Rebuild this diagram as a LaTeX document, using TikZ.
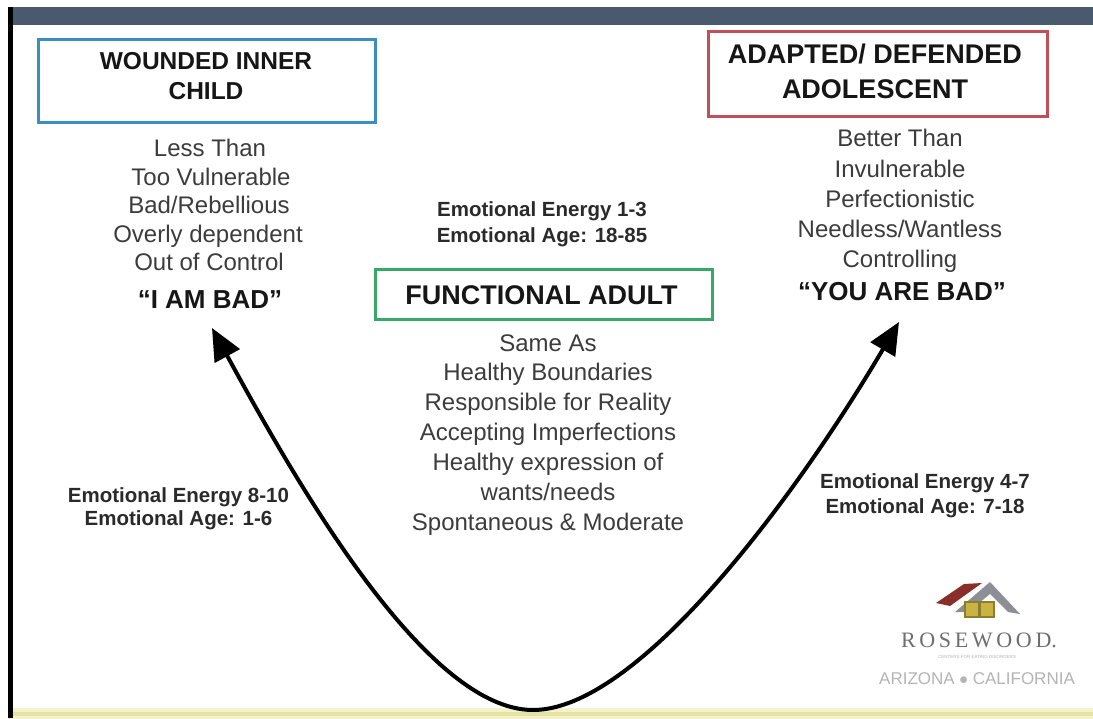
\documentclass[tikz,border=0pt]{standalone}
\usepackage{fontspec}
\setmainfont{Liberation Sans}
\newfontfamily\logoserif{Liberation Serif}
\usetikzlibrary{arrows.meta}
\definecolor{barslate}{HTML}{4A5A6E}
\definecolor{bodygray}{HTML}{3C3C3C}
\definecolor{labgray}{HTML}{2A2A2A}
\definecolor{titleblack}{HTML}{161616}
\definecolor{boxblue}{HTML}{3A8EC2}
\definecolor{boxred}{HTML}{C24E5A}
\definecolor{boxgreen}{HTML}{38A868}
\definecolor{paleyellow}{HTML}{F4F2CC}
\definecolor{lineyellow}{HTML}{E6E2A2}
\definecolor{roofred}{HTML}{8A2E2A}
\definecolor{roofgray}{HTML}{8C9096}
\definecolor{winyellow}{HTML}{C9B342}
\definecolor{logogray}{HTML}{6E6E6E}
\definecolor{logolight}{HTML}{B4B4B4}
\begin{document}
\begin{tikzpicture}[x=1pt,y=-1pt,
  body/.style={text=bodygray, font=\fontsize{24}{28}\selectfont, inner sep=0pt, text height=17.2pt, text depth=0pt},
  bodybold/.style={text=titleblack, font=\bfseries\fontsize{26}{30}\selectfont, inner sep=0pt, text height=18.6pt, text depth=0pt},
  elabel/.style={text=labgray, font=\bfseries\fontsize{20.5}{24}\selectfont, inner sep=0pt, text height=14.7pt, text depth=0pt},
  titleA/.style={text=titleblack, font=\bfseries\fontsize{24.5}{28}\selectfont, inner sep=0pt, text height=17.5pt, text depth=0pt},
  titleB/.style={text=titleblack, font=\bfseries\fontsize{27}{30}\selectfont, inner sep=0pt, text height=19.3pt, text depth=0pt},
  framebox/.style={draw, line width=3pt, fill=white, inner sep=0pt},
  curve/.style={line width=4pt, black, {Triangle[length=32pt,width=28pt]}-{Triangle[length=32pt,width=28pt]}}
]
\useasboundingbox (0,0) rectangle (1093,719);
\fill[white] (0,0) rectangle (1093,719);
% slide frame
\fill[paleyellow] (8,708) rectangle (1093,719);
\fill[lineyellow] (8,712) rectangle (1093,716);
\fill[barslate] (8,7) rectangle (1093,25);
\fill[black] (8,7) rectangle (13,718);

% boxes
\node[framebox, draw=boxblue, minimum width=337pt, minimum height=83pt] (wicbox) at (206.5,81.5) {};
\node[titleA] (wic1) at (206,61) {WOUNDED INNER};
\node[titleA] (wic2) at (206,91) {CHILD};

\node[framebox, draw=boxred, minimum width=339pt, minimum height=85pt] (adabox) at (877.5,74.5) {};
\node[titleB] (ada1) at (875,54) {ADAPTED/ DEFENDED};
\node[titleB] (ada2) at (875,89) {ADOLESCENT};

\node[framebox, draw=boxgreen, minimum width=337pt, minimum height=50pt] (fabox) at (543.5,295) {};
\node[titleB] (fa1) at (541.5,295) {FUNCTIONAL ADULT};

% left list
\node[body] (l1) at (210,148) {Less Than};
\node[body] (l2) at (211,176.5) {Too Vulnerable};
\node[body] (l3) at (209,205) {Bad/Rebellious};
\node[body] (l4) at (208,233.5) {Overly dependent};
\node[body] (l5) at (209,261.5) {Out of Control};
\node[bodybold] (l6) at (210,299) {``I AM BAD''};

% right list
\node[body] (r1) at (900,138) {Better Than};
\node[body] (r2) at (900,168.5) {Invulnerable};
\node[body] (r3) at (900,198.5) {Perfectionistic};
\node[body] (r4) at (900,228.5) {Needless/Wantless};
\node[body] (r5) at (900,258.5) {Controlling};
\node[bodybold] (r6) at (902,291) {``YOU ARE BAD''};

% middle list
\node[body] (m1) at (548,342.5) {Same As};
\node[body] (m2) at (548,371.5) {Healthy Boundaries};
\node[body] (m3) at (548,401.5) {Responsible for Reality};
\node[body] (m4) at (548,431.5) {Accepting Imperfections};
\node[body] (m5) at (548,461.5) {Healthy expression of};
\node[body] (m6) at (548,491.5) {wants/needs};
\node[body] (m7) at (548,521.5) {Spontaneous \& Moderate};

% emotional labels
\node[elabel] (e1) at (542,209.5) {Emotional Energy 1-3};
\node[elabel] (e2) at (542,235) {Emotional Age: 18-85};
\node[elabel] (e3) at (178.5,495) {Emotional Energy 8-10};
\node[elabel] (e4) at (178.5,518.5) {Emotional Age: 1-6};
\node[elabel] (e5) at (925,481) {Emotional Energy 4-7};
\node[elabel] (e6) at (925,506) {Emotional Age: 7-18};

% curve
\coordinate (lt) at (212,328);
\coordinate (bot) at (533,710);
\coordinate (rt) at (899,322);
\draw[curve] (lt) .. controls (295,480) and (425,710) .. (bot) .. controls (640,710) and (800,490) .. (rt);

% logo
\fill[roofgray] (955,612) -- (990,582) -- (1020,614) -- (1008,612) -- (990,594) -- (968,612) -- cycle;
\fill[roofred] (936,603) -- (964,584) -- (982,583) -- (950,606) -- cycle;
\fill[winyellow!70!black] (964,601) rectangle (995,618);
\fill[winyellow] (966,603) rectangle (978,616);
\fill[winyellow] (981,603) rectangle (993,616);
\node[text=logogray, font=\logoserif\fontsize{22}{24}\selectfont, inner sep=0pt] (rose) at (979,640) {R\,O\,S\,E\,W\,O\,O\,D.};
\node[text=logolight, font=\fontsize{4.5}{5}\selectfont, inner sep=0pt] (rosesub) at (977,657) {CENTERS FOR EATING DISORDERS};
\node[text=logolight, font=\fontsize{17}{19}\selectfont, inner sep=0pt] (rosestate) at (977,679) {ARIZONA $\bullet$ CALIFORNIA};
\end{tikzpicture}
\end{document}
